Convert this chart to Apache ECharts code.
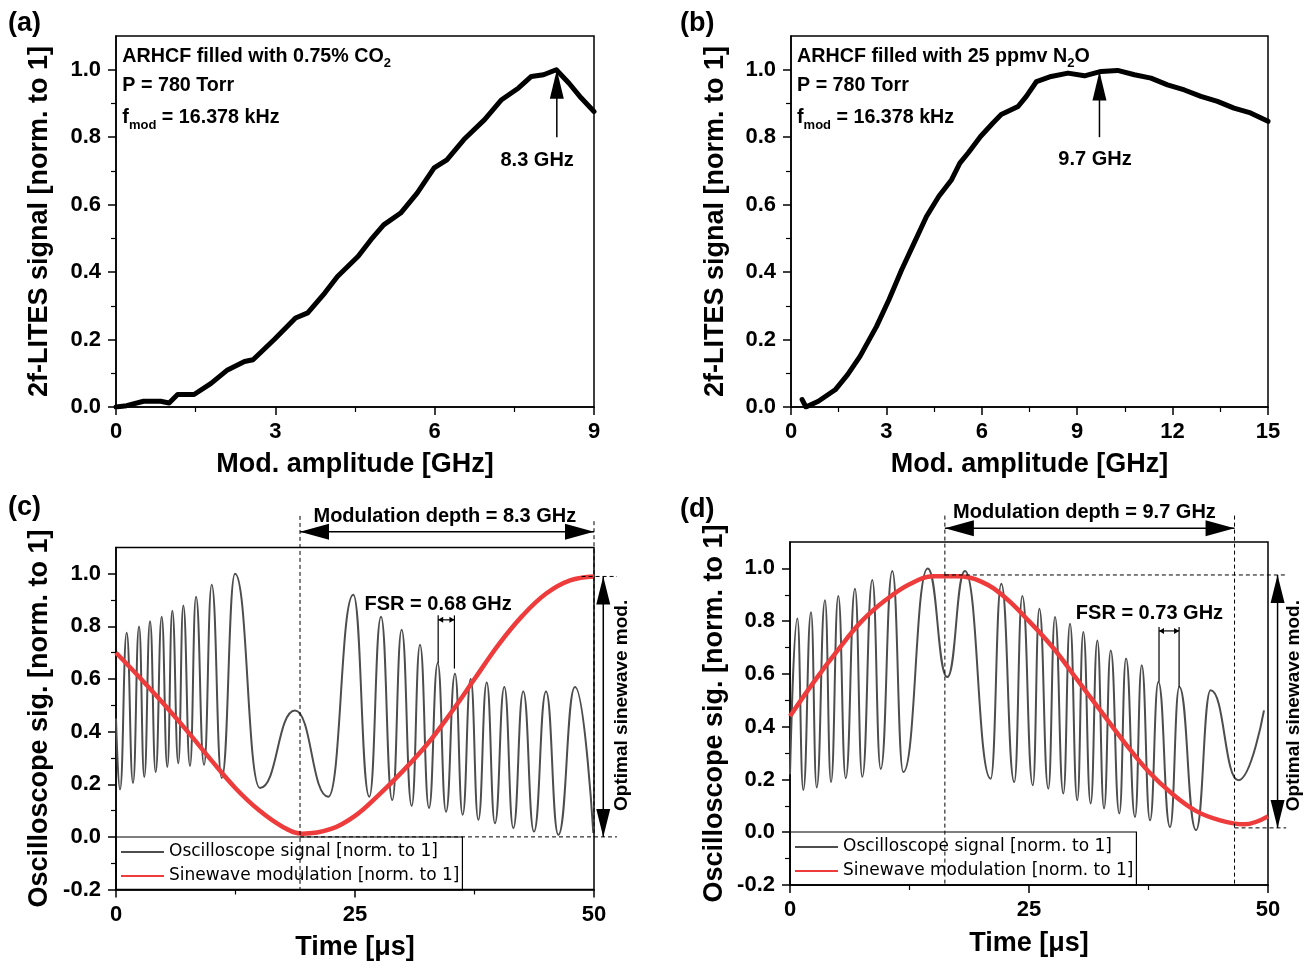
<!DOCTYPE html>
<html>
<head>
<meta charset="utf-8">
<script src="https://cdn.jsdelivr.net/npm/echarts@6/dist/echarts.min.js"></script>
<style>
  html, body { margin: 0; padding: 0; background: #fff; }
  #chart { width: 1313px; height: 965px; }
</style>
</head>
<body>
<div id="chart"></div>
<script>
// (a) 2f-LITES signal vs modulation amplitude, CO2
const ampA = [0, 0.2, 0.52, 0.84, 1.0, 1.16, 1.47, 1.79, 2.1, 2.42, 2.58, 2.98, 3.38, 3.61, 3.93, 4.17, 4.56, 4.8, 5.04, 5.36, 5.67, 5.99, 6.23, 6.55, 6.94, 7.26, 7.58, 7.82, 8.05, 8.29, 8.53, 8.76, 9.0];
const sigA = [0, 0.004, 0.017, 0.017, 0.012, 0.037, 0.037, 0.07, 0.11, 0.135, 0.14, 0.2, 0.264, 0.279, 0.338, 0.387, 0.447, 0.496, 0.54, 0.575, 0.634, 0.709, 0.733, 0.793, 0.852, 0.911, 0.946, 0.98, 0.985, 1.0, 0.96, 0.916, 0.876];

// (b) 2f-LITES signal vs modulation amplitude, N2O
const ampB = [0.35, 0.47, 0.86, 1.39, 1.78, 2.17, 2.69, 3.08, 3.48, 3.87, 4.26, 4.65, 5.05, 5.31, 5.57, 5.96, 6.35, 6.61, 7.14, 7.4, 7.72, 8.18, 8.71, 9.23, 9.75, 10.27, 10.8, 11.32, 11.84, 12.37, 12.89, 13.41, 13.93, 14.45, 15.0];
const sigB = [0.022, 0.0, 0.017, 0.051, 0.096, 0.15, 0.239, 0.318, 0.407, 0.486, 0.565, 0.625, 0.674, 0.723, 0.753, 0.802, 0.842, 0.867, 0.891, 0.921, 0.965, 0.98, 0.99, 0.982, 0.995, 0.998, 0.985, 0.975, 0.955, 0.94, 0.921, 0.906, 0.886, 0.872, 0.847];

// (c) oscilloscope trace (peaks and troughs) and sinewave modulation
const timeOscC = [0, 0.42, 1.12, 1.78, 2.41, 2.96, 3.56, 4.15, 4.78, 5.37, 5.89, 6.52, 7.04, 7.74, 8.37, 9.21, 10.01, 11.06, 12.45, 15.06, 18.72, 22.21, 24.82, 26.5, 27.72, 28.9, 29.88, 30.93, 31.8, 32.74, 33.65, 34.52, 35.46, 36.26, 37.1, 37.9, 38.78, 39.64, 40.62, 41.56, 42.6, 43.72, 44.98, 46.27, 48.01, 49.93];
const oscC = [0.45, 0.18, 0.776, 0.205, 0.80, 0.228, 0.82, 0.247, 0.837, 0.266, 0.86, 0.28, 0.88, 0.27, 0.913, 0.274, 0.958, 0.224, 1.0, 0.186, 0.48, 0.153, 0.92, 0.153, 0.837, 0.14, 0.787, 0.118, 0.73, 0.11, 0.66, 0.096, 0.62, 0.084, 0.60, 0.065, 0.587, 0.052, 0.57, 0.034, 0.553, 0.02, 0.553, 0.008, 0.57, 0.015];
const timeSinC = [0, 2.5, 5, 7.5, 10, 12.5, 15, 17.5, 19.5, 22.5, 25, 27.5, 30, 32.5, 35, 37.5, 40, 42.5, 45, 47.5, 50];
const sinC = [0.70, 0.605, 0.505, 0.40, 0.29, 0.185, 0.10, 0.037, 0.012, 0.03, 0.08, 0.16, 0.25, 0.35, 0.47, 0.60, 0.73, 0.84, 0.925, 0.975, 0.99];

// (d) oscilloscope trace (peaks and troughs) and sinewave modulation
const timeOscD = [0, 0.77, 1.39, 2.2, 2.79, 3.66, 4.29, 5.05, 5.83, 6.8, 7.56, 8.61, 9.49, 10.7, 11.85, 14.4, 16.45, 18.3, 20.99, 22.1, 23.46, 24.3, 25.4, 26.08, 27.02, 27.72, 28.59, 29.29, 30.05, 30.68, 31.45, 32.15, 32.85, 33.55, 34.45, 35.15, 36.09, 36.79, 37.66, 38.53, 39.75, 40.72, 42.47, 44.0, 46.9, 49.58];
const oscD = [0.22, 0.81, 0.16, 0.834, 0.17, 0.879, 0.19, 0.895, 0.205, 0.923, 0.21, 0.956, 0.24, 0.99, 0.228, 1.0, 0.588, 0.99, 0.203, 0.942, 0.19, 0.895, 0.178, 0.847, 0.165, 0.816, 0.147, 0.79, 0.121, 0.759, 0.109, 0.727, 0.09, 0.689, 0.071, 0.658, 0.058, 0.633, 0.045, 0.569, 0.02, 0.55, 0.008, 0.538, 0.197, 0.462];
const timeSinD = [0, 2.5, 5, 7.5, 10, 12.5, 15, 17.5, 20, 22.5, 25, 27.5, 30, 32.5, 35, 37.5, 40, 42.5, 45, 47.5, 50];
const sinD = [0.44, 0.57, 0.69, 0.80, 0.88, 0.94, 0.97, 0.97, 0.95, 0.89, 0.80, 0.70, 0.58, 0.46, 0.34, 0.23, 0.145, 0.08, 0.045, 0.03, 0.06];

// tick labels
const xTicksA = [0, 3, 6, 9];
const xTicksB = [0, 3, 6, 9, 12, 15];
const xTicksCD = [0, 25, 50];
const yTicksAB = [0.0, 0.2, 0.4, 0.6, 0.8, 1.0];
const yMinorAB = [0.1, 0.3, 0.5, 0.7, 0.9];
const yTicksCD = [-0.2, 0.0, 0.2, 0.4, 0.6, 0.8, 1.0];
const yMinorCD = [-0.1, 0.1, 0.3, 0.5, 0.7, 0.9];

const OSC_NAME = 'Oscilloscope signal [norm. to 1]';
const SIN_NAME = 'Sinewave modulation [norm. to 1]';

const FONT = "'Liberation Sans', Arial, sans-serif";
const zip = (xs, ys) => xs.map((x, i) => [x, ys[i]]);

const chart = echarts.init(document.getElementById('chart'));

function xAxisDef(i, ticks, name, gap) {
  return {
    gridIndex: i, type: 'value', position: 'bottom',
    min: ticks[0], max: ticks[ticks.length - 1], interval: ticks[1] - ticks[0],
    axisLine: { onZero: false, lineStyle: { color: '#000', width: 1.5 } },
    axisTick: { inside: false, length: 8, lineStyle: { color: '#000', width: 1.5 } },
    minorTick: { show: true, splitNumber: 2, length: 5, lineStyle: { color: '#000', width: 1.2 } },
    axisLabel: { color: '#000', fontFamily: FONT, fontWeight: 'bold', fontSize: 22, margin: 14 },
    splitLine: { show: false }, minorSplitLine: { show: false },
    name: name, nameLocation: 'middle', nameGap: gap, nameMoveOverlap: false,
    nameTextStyle: { color: '#000', fontFamily: FONT, fontWeight: 'bold', fontSize: 27 }
  };
}
function yAxisDef(i, ticks, name, gap) {
  return {
    gridIndex: i, type: 'value', position: 'left', min: ticks[0], max: 1.1,
    axisLine: { onZero: false, lineStyle: { color: '#000', width: 1.5 } },
    axisTick: { inside: false, length: 8, customValues: ticks, lineStyle: { color: '#000', width: 1.5 } },
    axisLabel: { customValues: ticks, formatter: v => v.toFixed(1), color: '#000', fontFamily: FONT, fontWeight: 'bold', fontSize: 22, margin: 15 },
    splitLine: { show: false },
    name: name, nameLocation: 'middle', nameGap: gap, nameMoveOverlap: false,
    nameTextStyle: { color: '#000', fontFamily: FONT, fontWeight: 'bold', fontSize: 27 }
  };
}
function yMinorDef(i, min, minor) {
  return {
    gridIndex: i, type: 'value', position: 'left', min: min, max: 1.1,
    axisLine: { show: false },
    axisTick: { inside: false, length: 5, customValues: minor, lineStyle: { color: '#000', width: 1.2 } },
    axisLabel: { show: false }, splitLine: { show: false }
  };
}

const gridBase = { show: true, borderColor: '#000', borderWidth: 1.5, backgroundColor: 'transparent', containLabel: false, outerBoundsMode: 'none' };

const legendBase = {
  orient: 'vertical', padding: [5, 3, 4, 5], itemGap: 4, itemWidth: 43, itemHeight: 2,
  borderColor: '#000', borderWidth: 1.2, borderRadius: 0, backgroundColor: 'transparent',
  selectedMode: false, icon: 'rect',
  textStyle: { fontFamily: "'DejaVu Sans', sans-serif", fontSize: 17, color: '#000', lineHeight: 20 },
  data: [OSC_NAME, SIN_NAME]
};

const option = {
  backgroundColor: '#fff',
  animation: false,
  grid: [
    Object.assign({ left: 116, top: 36, width: 478, height: 371 }, gridBase),
    Object.assign({ left: 791, top: 36, width: 477, height: 371 }, gridBase),
    Object.assign({ left: 116, top: 547.5, width: 478, height: 342 }, gridBase),
    Object.assign({ left: 790, top: 542, width: 478, height: 343 }, gridBase)
  ],
  xAxis: [
    xAxisDef(0, xTicksA, 'Mod. amplitude [GHz]', 44),
    xAxisDef(1, xTicksB, 'Mod. amplitude [GHz]', 44),
    xAxisDef(2, xTicksCD, 'Time [μs]', 45),
    xAxisDef(3, xTicksCD, 'Time [μs]', 45)
  ],
  yAxis: [
    yAxisDef(0, yTicksAB, '2f-LITES signal [norm. to 1]', 63),
    yAxisDef(1, yTicksAB, '2f-LITES signal [norm. to 1]', 62),
    yAxisDef(2, yTicksCD, 'Oscilloscope sig. [norm. to 1]', 63),
    yAxisDef(3, yTicksCD, 'Oscilloscope sig. [norm. to 1]', 62),
    yMinorDef(0, yTicksAB[0], yMinorAB),
    yMinorDef(1, yTicksAB[0], yMinorAB),
    yMinorDef(2, yTicksCD[0], yMinorCD),
    yMinorDef(3, yTicksCD[0], yMinorCD)
  ],
  legend: [
    Object.assign({ left: 116, top: 837 }, legendBase),
    Object.assign({ left: 790, top: 832 }, legendBase)
  ],
  series: [
    { type: 'line', name: 'CO2', xAxisIndex: 0, yAxisIndex: 0, data: zip(ampA, sigA), symbol: 'none',
      lineStyle: { color: '#000', width: 5, join: 'round', cap: 'round' } },
    { type: 'line', name: 'N2O', xAxisIndex: 1, yAxisIndex: 1, data: zip(ampB, sigB), symbol: 'none',
      lineStyle: { color: '#000', width: 5, join: 'round', cap: 'round' } },
    { type: 'line', name: OSC_NAME, xAxisIndex: 2, yAxisIndex: 2, data: zip(timeOscC, oscC), symbol: 'none',
      smooth: 0.5, smoothMonotone: 'x', itemStyle: { color: '#4d4d4d' }, lineStyle: { color: '#4d4d4d', width: 2 } },
    { type: 'line', name: SIN_NAME, xAxisIndex: 2, yAxisIndex: 2, data: zip(timeSinC, sinC), symbol: 'none',
      smooth: 0.4, itemStyle: { color: '#ee3b3b' }, lineStyle: { color: '#ee3b3b', width: 4.5 } },
    { type: 'line', name: OSC_NAME, xAxisIndex: 3, yAxisIndex: 3, data: zip(timeOscD, oscD), symbol: 'none',
      smooth: 0.5, smoothMonotone: 'x', itemStyle: { color: '#4d4d4d' }, lineStyle: { color: '#4d4d4d', width: 2 } },
    { type: 'line', name: SIN_NAME, xAxisIndex: 3, yAxisIndex: 3, data: zip(timeSinD, sinD), symbol: 'none',
      smooth: 0.4, itemStyle: { color: '#ee3b3b' }, lineStyle: { color: '#ee3b3b', width: 4.5 } }
  ]
};
chart.setOption(option);

// annotations, placed through the axes
const P = (i, x, y) => chart.convertToPixel({ xAxisIndex: i, yAxisIndex: i }, [x, y]);
function seg(a, b, w, dash) {
  return { type: 'line', silent: true, z: 60, shape: { x1: a[0], y1: a[1], x2: b[0], y2: b[1] },
    style: { stroke: '#000', lineWidth: w, lineDash: dash || null } };
}
function head(tip, from, len, half) {
  const dx0 = tip[0] - from[0], dy0 = tip[1] - from[1];
  const d = Math.hypot(dx0, dy0), dx = dx0 / d, dy = dy0 / d;
  const bx = tip[0] - dx * len, by = tip[1] - dy * len;
  return { type: 'polygon', silent: true, z: 61,
    shape: { points: [[tip[0], tip[1]], [bx - dy * half, by + dx * half], [bx + dy * half, by - dx * half]] },
    style: { fill: '#000' } };
}
function arrow(a, b, len, half, w, both) {
  const out = [seg(a, b, w), head(b, a, len, half)];
  if (both) out.push(head(a, b, len, half));
  return out;
}
const rich = { sub: { fontSize: 13, fontWeight: 'bold', fontFamily: FONT, lineHeight: 28, verticalAlign: 'bottom' } };
function txt(p, s, size, opt) {
  opt = opt || {};
  return { type: 'text', silent: true, z: 62, x: p[0], y: p[1], rotation: opt.rot || 0,
    style: { text: s, fontSize: size, fontWeight: opt.weight || 'bold', fontFamily: FONT, fill: '#000',
      align: opt.align || 'center', verticalAlign: 'middle', lineHeight: 28, rich: rich } };
}
const dash = [4, 3];

const g = [];
// panel letters
g.push(txt([8, 24], '(a)', 27, { align: 'left' }));
g.push(txt([680, 24], '(b)', 27, { align: 'left' }));
g.push(txt([8, 508], '(c)', 27, { align: 'left' }));
g.push(txt([680, 510], '(d)', 27, { align: 'left' }));

// (a)
g.push(txt(P(0, 0.12, 1.04), 'ARHCF filled with 0.75% CO{sub|2}', 19.7, { align: 'left' }));
g.push(txt(P(0, 0.12, 0.952), 'P = 780 Torr', 19.7, { align: 'left' }));
g.push(txt(P(0, 0.12, 0.858), 'f{sub|mod} = 16.378 kHz', 19.7, { align: 'left' }));
g.push(...arrow(P(0, 8.3, 0.80), P(0, 8.3, 1.0), 29, 7, 1.5));
g.push(txt(P(0, 7.93, 0.73), '8.3 GHz', 20));

// (b)
g.push(txt(P(1, 0.19, 1.04), 'ARHCF filled with 25 ppmv N{sub|2}O', 19.7, { align: 'left' }));
g.push(txt(P(1, 0.19, 0.952), 'P = 780 Torr', 19.7, { align: 'left' }));
g.push(txt(P(1, 0.19, 0.858), 'f{sub|mod} = 16.378 kHz', 19.7, { align: 'left' }));
g.push(...arrow(P(1, 9.7, 0.80), P(1, 9.7, 0.995), 29, 7, 1.5));
g.push(txt(P(1, 9.56, 0.733), '9.7 GHz', 20));

// (c)
g.push(seg(P(2, 19.25, 1.22), P(2, 19.25, -0.2), 1, dash));
g.push(seg(P(2, 50, 1.20), P(2, 50, 0), 1, dash));
g.push(...arrow(P(2, 19.25, 1.16), P(2, 50, 1.16), 29, 8, 1.5, true));
g.push(txt(P(2, 34.4, 1.217), 'Modulation depth = 8.3 GHz', 20));
g.push(seg(P(2, 19.25, 0), P(2, 52.4, 0), 1, dash));
g.push(seg(P(2, 48.7, 0.99), P(2, 52.4, 0.99), 1, dash));
g.push(...arrow(P(2, 50.97, 0.99), P(2, 50.97, 0.0), 28, 7, 1.5, true));
g.push(txt(P(2, 52.86, 0.5), 'Optimal sinewave mod.', 19, { rot: Math.PI / 2 }));
g.push(seg(P(2, 33.7, 0.842), P(2, 33.7, 0.66), 1.2));
g.push(seg(P(2, 35.4, 0.842), P(2, 35.4, 0.64), 1.2));
g.push(...arrow(P(2, 33.7, 0.825), P(2, 35.4, 0.825), 5, 3, 1.2, true));
g.push(txt(P(2, 33.7, 0.882), 'FSR = 0.68 GHz', 20));

// (d)
g.push(seg(P(3, 16.2, 1.20), P(3, 16.2, -0.2), 1, dash));
g.push(seg(P(3, 46.5, 1.20), P(3, 46.5, -0.2), 1, dash));
g.push(...arrow(P(3, 16.2, 1.152), P(3, 46.5, 1.152), 29, 8, 1.5, true));
g.push(txt(P(3, 30.8, 1.212), 'Modulation depth = 9.7 GHz', 20));
g.push(seg(P(3, 16.2, 0.975), P(3, 51.9, 0.975), 1, dash));
g.push(seg(P(3, 46.5, 0.0165), P(3, 51.9, 0.0165), 1, dash));
g.push(...arrow(P(3, 51.0, 0.975), P(3, 51.0, 0.0165), 28, 7, 1.5, true));
g.push(txt(P(3, 52.74, 0.48), 'Optimal sinewave mod.', 19, { rot: Math.PI / 2 }));
g.push(seg(P(3, 38.6, 0.778), P(3, 38.6, 0.57), 1.2));
g.push(seg(P(3, 40.7, 0.778), P(3, 40.7, 0.55), 1.2));
g.push(...arrow(P(3, 38.6, 0.763), P(3, 40.7, 0.763), 5, 3, 1.2, true));
g.push(txt(P(3, 37.6, 0.829), 'FSR = 0.73 GHz', 20));

chart.setOption({ graphic: g });
</script>
</body>
</html>
